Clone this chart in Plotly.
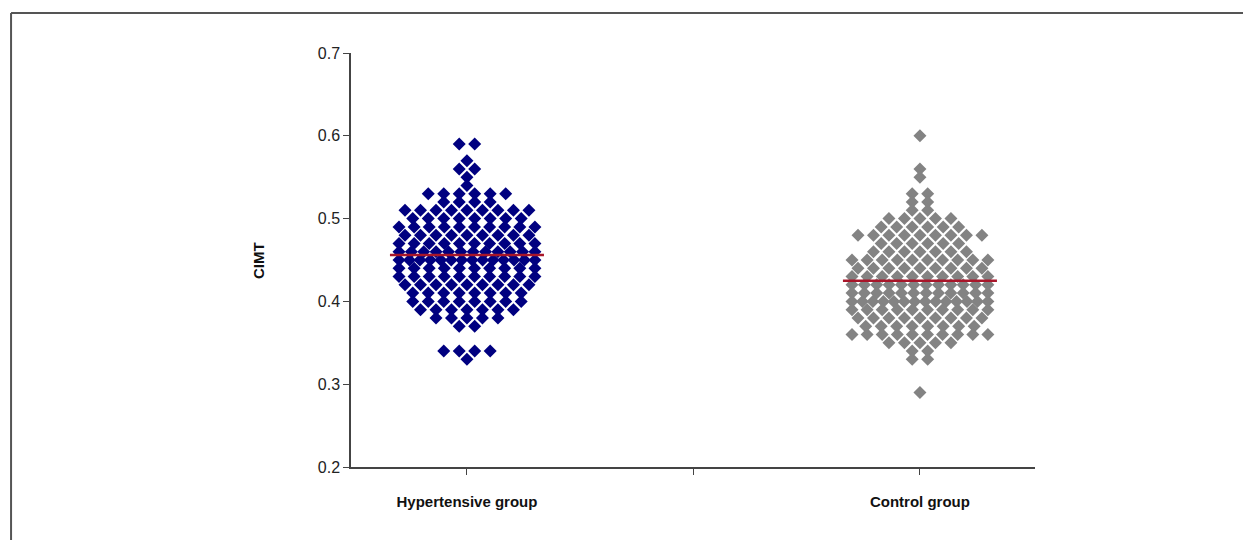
import plotly.graph_objects as go

# ---- data ----
categories = ["Hypertensive group", "Control group"]
group_pos = [1, 3]

hyp_levels = [0.59, 0.57, 0.56, 0.55, 0.54, 0.53, 0.52, 0.51, 0.50, 0.49, 0.48, 0.47,
              0.46, 0.45, 0.44, 0.43, 0.42, 0.41, 0.40, 0.39, 0.38, 0.37, 0.34, 0.33]
hyp_counts = [2, 1, 2, 1, 1, 6, 4, 9, 8, 10, 9, 10,
              12, 14, 10, 10, 9, 8, 8, 7, 5, 2, 4, 1]
hyp_mean = 0.456

ctl_levels = [0.60, 0.56, 0.55, 0.53, 0.52, 0.51, 0.50, 0.49, 0.48, 0.47, 0.46, 0.45,
              0.44, 0.43, 0.42, 0.41, 0.40, 0.39, 0.38, 0.37, 0.36, 0.35, 0.34, 0.33, 0.29]
ctl_counts = [1, 1, 1, 2, 2, 2, 5, 6, 9, 6, 7, 10,
              9, 10, 12, 12, 14, 10, 9, 8, 10, 5, 2, 2, 1]
ctl_mean = 0.425

y_ticks = [0.2, 0.3, 0.4, 0.5, 0.6, 0.7]

# ---- styling ----
HYP_COLOR = "#000080"
CTL_COLOR = "#838383"
MEAN_COLOR = "#A8162A"
FONT = "Liberation Sans, Arial, sans-serif"

SPACING = 0.0684      # horizontal gap between neighbouring dots (x units)
MAX_SPAN = 0.60       # widest spread of one row (x units)
MEAN_HALF = 0.34


def dot_layout(center, levels, counts):
    xs, ys = [], []
    for v, n in zip(levels, counts):
        step = SPACING if n <= 1 else min(SPACING, MAX_SPAN / (n - 1))
        for i in range(n):
            xs.append(center + (i - (n - 1) / 2) * step)
            ys.append(v)
    return xs, ys


fig = go.Figure()

for center, levels, counts, color, mean in [
    (group_pos[0], hyp_levels, hyp_counts, HYP_COLOR, hyp_mean),
    (group_pos[1], ctl_levels, ctl_counts, CTL_COLOR, ctl_mean),
]:
    xs, ys = dot_layout(center, levels, counts)
    fig.add_trace(go.Scatter(
        x=xs, y=ys, mode="markers",
        marker=dict(symbol="diamond", size=10, color=color, line=dict(width=0)),
        showlegend=False, hoverinfo="y"))
    fig.add_trace(go.Scatter(
        x=[center - MEAN_HALF, center + MEAN_HALF], y=[mean, mean], mode="lines",
        line=dict(color=MEAN_COLOR, width=2.5), showlegend=False, hoverinfo="skip"))

fig.update_layout(
    width=1243, height=532,
    margin=dict(l=343, r=216, t=45, b=73),
    paper_bgcolor="white", plot_bgcolor="white",
    font=dict(family=FONT, color="#222222", size=16),
    xaxis=dict(
        range=[0.488, 3.508],
        tickvals=[1, 2, 3],
        ticktext=["<b>" + categories[0] + "</b>", "", "<b>" + categories[1] + "</b>"],
        ticks="outside", ticklen=6, tickwidth=1.2, tickcolor="#444444",
        showline=True, linecolor="#444444", linewidth=1.5,
        showgrid=False, zeroline=False,
        tickfont=dict(family=FONT, size=15, color="#111111"),
        ticklabelstandoff=14,
    ),
    yaxis=dict(
        range=[0.2, 0.7],
        tickvals=y_ticks,
        ticktext=[f"{t:.1f}" for t in y_ticks],
        ticks="outside", ticklen=6, tickwidth=1.2, tickcolor="#444444",
        showline=True, linecolor="#444444", linewidth=1.5,
        showgrid=False, zeroline=False,
        tickfont=dict(family=FONT, size=16, color="#222222"),
    ),
    annotations=[dict(
        text="<b>CIMT</b>", xref="paper", yref="paper",
        x=-0.136, y=0.5, xanchor="center", yanchor="middle",
        textangle=-90, showarrow=False,
        font=dict(family=FONT, size=15, color="#111111"))],
    shapes=[
        dict(type="line", xref="paper", yref="paper",
             x0=-0.497, x1=1.4, y0=1.0966, y1=1.0966,
             line=dict(color="#555555", width=2)),
        dict(type="line", xref="paper", yref="paper",
             x0=-0.497, x1=-0.497, y0=1.0966, y1=-0.3,
             line=dict(color="#555555", width=2)),
    ],
)

fig.write_html("out.html")
